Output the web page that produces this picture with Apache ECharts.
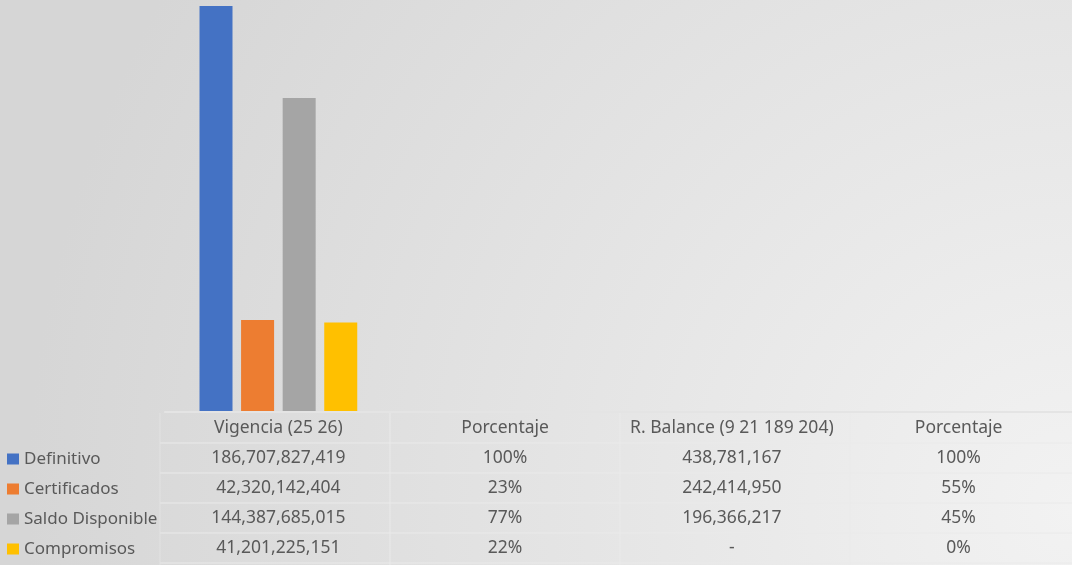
<!DOCTYPE html>
<html>
<head>
<meta charset="utf-8">
<script src="https://cdn.jsdelivr.net/npm/echarts@6/dist/echarts.min.js"></script>
<style>
  html, body { margin: 0; padding: 0; }
  #chart { width: 1072px; height: 565px; }
</style>
</head>
<body>
<div id="chart"></div>
<script>
// columns of the data table (also the x categories)
var categories = ['Vigencia (25 26)', 'Porcentaje', 'R. Balance (9 21 189 204)', 'Porcentaje']
var isPercent = [false, true, false, true]

var seriesNames = ['Definitivo', 'Certificados', 'Saldo Disponible', 'Compromisos']
var definitivo = [186707827419, 1.00, 438781167, 1.00]
var certificados = [42320142404, 0.23, 242414950, 0.55]
var saldoDisponible = [144387685015, 0.77, 196366217, 0.45]
var compromisos = [41201225151, 0.22, 0, 0]

var colors = ['#4472c4', '#ed7d31', '#a5a5a5', '#ffc000']
var rows = [definitivo, certificados, saldoDisponible, compromisos]

function fmt(v, pct) {
  if (pct) return Math.round(v * 100) + '%'
  if (v === 0) return '-'
  return v.toLocaleString('en-US')
}

var textColor = '#595959'
var font = 'Noto Sans'
var fontSize = 17.5
var lineColor = '#eaeaea'

var myChart = echarts.init(document.getElementById('chart'))

// one legend per row so each key sits beside its table row
var legends = seriesNames.map(function(name, i) {
  return {
    data: [name],
    left: 2,
    top: 445 + i * 30,
    icon: 'rect',
    itemWidth: 12,
    itemHeight: 11,
    itemGap: 5,
    selectedMode: false,
    textStyle: { color: textColor, fontFamily: font, fontSize: 17, lineHeight: 18 }
  }
})

// faint table borders
var graphics = []
;[443, 473, 503, 533, 563].forEach(function(y) {
  graphics.push({ type: 'line', shape: { x1: 160, y1: y, x2: 1072, y2: y }, style: { stroke: lineColor, lineWidth: 1 }, silent: true })
})
;[390, 620, 850].forEach(function(x) {
  graphics.push({ type: 'line', shape: { x1: x, y1: 413, x2: x, y2: 565 }, style: { stroke: lineColor, lineWidth: 1 }, silent: true })
})
graphics.push({ type: 'line', shape: { x1: 160, y1: 413, x2: 160, y2: 565 }, style: { stroke: '#e2e2e2', lineWidth: 1 }, silent: true })

var option = {
  backgroundColor: new echarts.graphic.RadialGradient(1.0, 0.9, 1.85, [
    { offset: 0, color: '#f2f2f2' },
    { offset: 1, color: '#d6d6d6' }
  ]),
  animation: false,
  legend: legends,
  graphic: graphics,
  grid: { left: 165, right: -5, top: 0, bottom: 153 },
  xAxis: {
    type: 'category',
    data: categories,
    z: 5,
    axisTick: { show: false },
    axisLine: { show: true, lineStyle: { color: '#e4e4e4', width: 2 } },
    axisLabel: {
      interval: 0,
      margin: 1,
      color: textColor,
      fontFamily: font,
      fontSize: fontSize,
      lineHeight: 30,
      formatter: function(value, idx) {
        var lines = [value]
        rows.forEach(function(r) { lines.push(fmt(r[idx], isPercent[idx])) })
        return lines.join('\n')
      }
    }
  },
  yAxis: {
    type: 'value',
    min: 0,
    max: 189.5e9,
    show: false,
    splitLine: { show: false }
  },
  series: rows.map(function(r, i) {
    return {
      name: seriesNames[i],
      type: 'bar',
      data: r,
      barWidth: 33,
      barGap: '26%',
      itemStyle: { color: colors[i] }
    }
  })
}
myChart.setOption(option)
</script>
</body>
</html>
